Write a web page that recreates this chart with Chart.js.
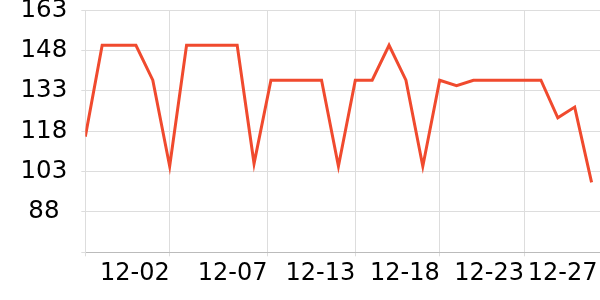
<!DOCTYPE html>
<html>
<head>
<meta charset="utf-8">
<script src="https://cdn.jsdelivr.net/npm/chart.js@4"></script>
<style>
  html, body { margin: 0; padding: 0; background: #fff; }
  #wrap { width: 600px; height: 300px; }
</style>
</head>
<body>
<div id="wrap"><canvas id="c" width="600" height="300"></canvas></div>
<script>
// Data (one point per day)
const days = ['11-27','11-28','11-29','11-30','12-01','12-02','12-03','12-04','12-05','12-06',
              '12-07','12-08','12-09','12-10','12-11','12-12','12-13','12-14','12-15','12-16',
              '12-17','12-18','12-19','12-20','12-21','12-22','12-23','12-24','12-25','12-26','12-27'];
const values = [116, 150, 150, 150, 137, 105, 150, 150, 150, 150,
                106, 137, 137, 137, 137, 105, 137, 137, 150, 137,
                105, 137, 135, 137, 137, 137, 137, 137, 123, 127, 99];
// X tick labels and where they sit (in point-index units)
const tickLabels = ['', '12-02', '12-07', '12-13', '12-18', '12-23', '12-27'];
const tickAt = [0, 5, 10.8, 16, 21, 26, 30.35];
// Y axis
const yMin = 73, yMax = 163, yStep = 15;

const points = values.map((v, i) => ({ x: i, y: v, day: days[i] }));

new Chart(document.getElementById('c'), {
  type: 'line',
  data: {
    datasets: [{
      data: points,
      borderColor: '#f04a2e',
      borderWidth: 3,
      pointRadius: 0,
      tension: 0,
      fill: false
    }]
  },
  options: {
    responsive: false,
    animation: false,
    layout: { padding: { top: 10.3, bottom: 8.9, left: 0, right: 0 } },
    plugins: { legend: { display: false }, tooltip: { enabled: false } },
    scales: {
      x: {
        type: 'linear',
        min: 0,
        max: 30.5,
        afterBuildTicks: (s) => { s.ticks = tickAt.map(v => ({ value: v })); },
        afterFit: (s) => { s.paddingLeft = 0; s.paddingRight = 0; },
        ticks: {
          autoSkip: false,
          maxRotation: 0,
          align: 'end',
          padding: 3,
          color: '#000',
          font: { family: 'DejaVu Sans', size: 24 },
          callback: (v, i) => tickLabels[i]
        },
        grid: {
          color: (ctx) => (ctx.index === tickAt.length - 1 ? 'rgba(0,0,0,0)' : '#dddddd'),
          tickLength: 4
        },
        border: { color: '#bbbbbb' }
      },
      y: {
        min: yMin,
        max: yMax,
        afterFit: (s) => { s.width = 85.3; s.paddingTop = 0; s.paddingBottom = 0; },
        ticks: {
          stepSize: yStep,
          crossAlign: 'center',
          padding: 14,
          color: '#000',
          font: { family: 'DejaVu Sans', size: 24.5 },
          callback: (v) => (v === yMin ? '' : v)
        },
        grid: { color: '#dddddd', tickLength: 4 },
        border: { color: '#dddddd' }
      }
    }
  }
});
</script>
</body>
</html>
